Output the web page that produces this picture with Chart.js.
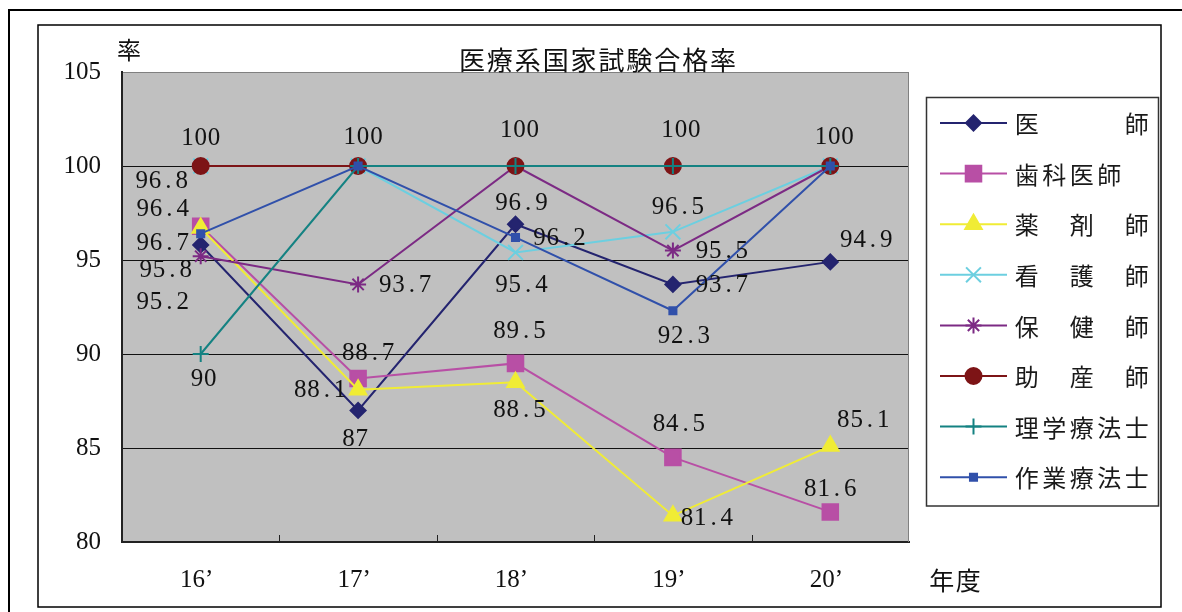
<!DOCTYPE html>
<html>
<head>
<meta charset="utf-8">
<script src="https://cdn.jsdelivr.net/npm/chart.js@4.4.1/dist/chart.umd.min.js"></script>
<style>
  html, body { margin: 0; padding: 0; background: #ffffff; }
  canvas { display: block; }
</style>
</head>
<body>
<canvas id="chart" width="1182" height="612"></canvas>
<script>
// 年度
const years = ['16’', '17’', '18’', '19’', '20’'];

// 職種ごとの合格率 (%)
const ishi       = [95.8, 87.0, 96.9, 93.7, 94.9];   // 医師
const shikaIshi  = [96.8, 88.7, 89.5, 84.5, 81.6];   // 歯科医師
const yakuzaishi = [96.7, 88.1, 88.5, 81.4, 85.1];   // 薬剤師
const kangoshi   = [100, 100, 95.4, 96.5, 100];      // 看護師
const hokenshi   = [95.2, 93.7, 100, 95.5, 100];     // 保健師
const josanshi   = [100, 100, 100, 100, 100];        // 助産師
const rigaku     = [90, 100, 100, 100, 100];         // 理学療法士
const sagyo      = [96.4, 100, 96.2, 92.3, 100];     // 作業療法士

// 凡例の表示名
const seriesNames = ['医　　　師', '歯科医師', '薬　剤　師', '看　護　師', '保　健　師', '助　産　師', '理学療法士', '作業療法士'];

// 縦軸の目盛
const yTicks = [80, 85, 90, 95, 100, 105];

const titleText = '医療系国家試験合格率';
const yTitleText = '率';
const xTitleText = '年度';

// 系列ごとの線・マーカーの見た目
const seriesStyles = [
  { color: '#24246f', pointStyle: 'rectRot',  radius: 7.5 },
  { color: '#b84fa5', pointStyle: 'rect',     radius: 11 },
  { color: '#f0ec35', pointStyle: 'triangle', radius: 9.5 },
  { color: '#6ccfe0', pointStyle: 'crossRot', radius: 10.5 },
  { color: '#7c2a84', pointStyle: 'star',     radius: 8 },
  { color: '#7d1416', pointStyle: 'circle',   radius: 8 },
  { color: '#148282', pointStyle: 'cross',    radius: 8 },
  { color: '#3050aa', pointStyle: 'rect',     radius: 5 }
];

// 数値ラベルの配置 (点からのずれ, px)。null は表示しない
const labelOffsets = [
  [[-35, 25], [-3, 29], [6, -21], [49, 1], [36, -21]],
  [[-39, -45], [10, -25], [4, -32], [6, -33], [0, -22]],
  [[-38, 15], [-38, 1], [4, 28], [34, 3], [33, -26]],
  [null, null, [6, 33], [5, -24], null],
  [[-38, 46], [47, 1], null, [49, 1], null],
  [[0, -28], [5, -29], [4, -36], [8, -36], [4, -29]],
  [[3, 25], null, null, null, null],
  [[-38, -24], null, [44, 1], [11, 26], null]
];

const seriesData = [ishi, shikaIshi, yakuzaishi, kangoshi, hokenshi, josanshi, rigaku, sagyo];

const NUM_FONT = '25px "Liberation Serif", "DejaVu Serif", serif';
const CJK_FONT = '"Noto Sans CJK JP", "Noto Sans CJK SC", sans-serif';

// 一文字ずつ等間隔に並べて描く
function drawPitched(ctx, text, cx, cy, pitch, align) {
  const chars = Array.from(text);
  const total = chars.length * pitch;
  let x0 = cx - total / 2;
  if (align === 'left') x0 = cx;
  if (align === 'right') x0 = cx - total;
  ctx.textAlign = 'center';
  ctx.textBaseline = 'middle';
  chars.forEach((ch, i) => ctx.fillText(ch, x0 + pitch * (i + 0.5), cy));
}

function drawMarker(ctx, style, x, y) {
  const opts = { pointStyle: style.pointStyle, radius: style.radius, rotation: 0, borderWidth: 2 };
  if (Chart.helpers && Chart.helpers.drawPoint) {
    Chart.helpers.drawPoint(ctx, opts, x, y);
  }
}

// 枠・プロット背景・タイトル・凡例など
const decorations = {
  id: 'decorations',
  beforeDraw(chart) {
    const { ctx, chartArea: a } = chart;
    ctx.save();
    ctx.fillStyle = '#ffffff';
    ctx.fillRect(0, 0, chart.width, chart.height);
    // 外枠
    ctx.strokeStyle = '#000000';
    ctx.lineWidth = 2;
    ctx.beginPath();
    ctx.moveTo(9, 612);
    ctx.lineTo(9, 10);
    ctx.lineTo(1182, 10);
    ctx.stroke();
    // 内枠
    ctx.lineWidth = 1.5;
    ctx.strokeRect(38, 25, 1123, 582);
    // プロット領域
    ctx.fillStyle = '#c0c0c0';
    ctx.fillRect(a.left, a.top, a.right - a.left, a.bottom - a.top);
    ctx.restore();
  },
  afterDraw(chart) {
    const { ctx, chartArea: a } = chart;
    const xs = chart.scales.x;
    ctx.save();
    // プロット領域の右端
    ctx.strokeStyle = '#808080';
    ctx.lineWidth = 1;
    ctx.beginPath();
    ctx.moveTo(a.right - 0.5, a.top);
    ctx.lineTo(a.right - 0.5, a.bottom);
    ctx.stroke();
    // 横軸の内向き目盛
    ctx.strokeStyle = '#222222';
    ctx.lineWidth = 1;
    for (let i = 1; i < years.length; i++) {
      const x = Math.round((xs.getPixelForTick(i - 1) + xs.getPixelForTick(i)) / 2) + 0.5;
      ctx.beginPath();
      ctx.moveTo(x, a.bottom);
      ctx.lineTo(x, a.bottom - 7);
      ctx.stroke();
    }
    // タイトル・軸の見出し
    ctx.fillStyle = '#111111';
    ctx.font = '26px ' + CJK_FONT;
    drawPitched(ctx, titleText, 597.5, 60, 27.9, 'center');
    ctx.font = '24px ' + CJK_FONT;
    drawPitched(ctx, yTitleText, 129, 50, 26, 'center');
    ctx.font = '25px ' + CJK_FONT;
    drawPitched(ctx, xTitleText, 955, 580, 26.5, 'center');

    // 凡例
    ctx.strokeStyle = '#333333';
    ctx.lineWidth = 1.5;
    ctx.strokeRect(926.5, 97.5, 232, 408.5);
    chart.data.datasets.forEach((ds, i) => {
      const st = seriesStyles[i];
      const y = 123 + i * 50.6;
      ctx.strokeStyle = st.color;
      ctx.fillStyle = st.color;
      ctx.lineWidth = 2;
      ctx.beginPath();
      ctx.moveTo(940, y);
      ctx.lineTo(1007, y);
      ctx.stroke();
      drawMarker(ctx, st, 973.5, y);
      ctx.fillStyle = '#1a1a1a';
      ctx.font = '24px ' + CJK_FONT;
      drawPitched(ctx, ds.label, 1013, y + 1, 27.5, 'left');
    });
    ctx.restore();
  }
};

// 数値ラベル
const valueLabels = {
  id: 'valueLabels',
  afterDatasetsDraw(chart) {
    const { ctx } = chart;
    ctx.save();
    ctx.fillStyle = '#111111';
    ctx.font = NUM_FONT;
    chart.data.datasets.forEach((ds, i) => {
      const meta = chart.getDatasetMeta(i);
      ds.data.forEach((v, j) => {
        const off = labelOffsets[i][j];
        if (!off) return;
        const pt = meta.data[j];
        drawPitched(ctx, String(v), pt.x + off[0], pt.y + off[1], 13.3, 'center');
      });
    });
    ctx.restore();
  }
};

const datasets = seriesData.map((arr, i) => {
  const st = seriesStyles[i];
  return {
    label: seriesNames[i],
    data: arr,
    borderColor: st.color,
    backgroundColor: st.color,
    borderWidth: 2,
    pointStyle: st.pointStyle,
    pointRadius: st.radius,
    pointHoverRadius: st.radius,
    pointBorderColor: st.color,
    pointBackgroundColor: st.color,
    pointBorderWidth: 2,
    tension: 0,
    order: seriesData.length - 1 - i
  };
});

new Chart(document.getElementById('chart'), {
  type: 'line',
  data: { labels: years, datasets },
  options: {
    responsive: false,
    animation: false,
    devicePixelRatio: 1,
    layout: { padding: { left: 0, top: 72, right: 273, bottom: 0 } },
    plugins: {
      legend: { display: false },
      title: { display: false },
      tooltip: { enabled: false }
    },
    scales: {
      x: {
        type: 'category',
        offset: true,
        afterFit(scale) { scale.height = 70; },
        grid: { display: true, drawOnChartArea: false, drawTicks: false },
        border: { display: true, color: '#222222', width: 2 },
        ticks: {
          color: '#111111',
          font: { family: '"Liberation Serif", "DejaVu Serif", serif', size: 25 },
          padding: 23,
          labelOffset: -4,
          maxRotation: 0
        }
      },
      y: {
        min: 80,
        max: 105,
        afterFit(scale) { scale.width = 122; },
        afterBuildTicks(scale) { scale.ticks = yTicks.map(v => ({ value: v })); },
        grid: {
          drawTicks: false,
          lineWidth: 1,
          color: (c) => {
            const v = c.tick && c.tick.value;
            if (v === 105) return '#808080';
            if (v === 80) return 'rgba(0,0,0,0)';
            return '#111111';
          }
        },
        border: { display: true, color: '#222222', width: 2 },
        ticks: {
          color: '#111111',
          font: { family: '"Liberation Serif", "DejaVu Serif", serif', size: 25 },
          padding: 21
        }
      }
    }
  },
  plugins: [decorations, valueLabels]
});
</script>
</body>
</html>
